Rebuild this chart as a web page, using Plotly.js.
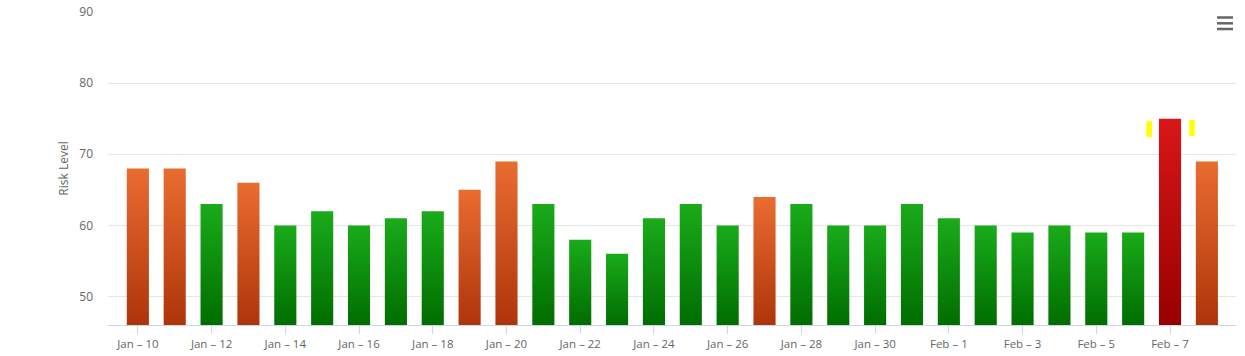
<!DOCTYPE html>
<html>
<head>
<meta charset="utf-8">
<script src="https://cdn.plot.ly/plotly-3.0.1.min.js"></script>
<style>
html,body{margin:0;padding:0;background:#fff;}
#chart{width:1245px;height:356px;}
</style>
</head>
<body>
<div id="chart"></div>
<script>
// ---- data ----
const categories = [
  'Jan – 10','Jan – 11','Jan – 12','Jan – 13','Jan – 14','Jan – 15','Jan – 16','Jan – 17','Jan – 18','Jan – 19',
  'Jan – 20','Jan – 21','Jan – 22','Jan – 23','Jan – 24','Jan – 25','Jan – 26','Jan – 27','Jan – 28','Jan – 29',
  'Jan – 30','Jan – 31','Feb – 1','Feb – 2','Feb – 3','Feb – 4','Feb – 5','Feb – 6','Feb – 7','Feb – 8'
];
const riskValues = [
  68, 68, 63, 66, 60, 62, 60, 61, 62, 65,
  69, 63, 58, 56, 61, 63, 60, 64, 63, 60,
  60, 63, 61, 60, 59, 60, 59, 59, 75, 69
];
const yTickValues = [50, 60, 70, 80, 90];
const yRange = [46, 90];
const highlightCategory = 'Feb – 7';

// ---- styling ----
const gradients = {
  green:  {top: '#1aab1a', bottom: '#006d00'},
  orange: {top: '#e96c30', bottom: '#ae350a'},
  red:    {top: '#d91618', bottom: '#990000'}
};
function levelOf(v){ return v >= 70 ? 'red' : (v >= 64 ? 'orange' : 'green'); }
const levels = riskValues.map(levelOf);
const flatColors = levels.map(l => gradients[l].top);

const tickCats = categories.filter((c, i) => i % 2 === 0);

const hIdx = categories.indexOf(highlightCategory);
const hVal = riskValues[hIdx];

const font = {family: '"Open Sans", "DejaVu Sans", sans-serif', size: 12, color: '#666666'};

const trace = {
  type: 'bar',
  x: categories,
  y: riskValues.map(v => v - yRange[0]),
  base: yRange[0],
  marker: {color: flatColors, line: {width: 0}},
  hoverinfo: 'x+y'
};

const shapes = [
  // yellow highlight markers beside the highest bar
  {type: 'rect', xref: 'x', yref: 'y', x0: hIdx - 0.64, x1: hIdx - 0.49, y0: hVal - 2.55, y1: hVal - 0.35,
   fillcolor: '#ffff00', line: {width: 0}, layer: 'above'},
  {type: 'rect', xref: 'x', yref: 'y', x0: hIdx + 0.52, x1: hIdx + 0.67, y0: hVal - 2.4, y1: hVal - 0.2,
   fillcolor: '#ffff00', line: {width: 0}, layer: 'above'}
];
// hamburger menu icon (decoration)
[17.5, 23.3, 29].forEach(py => {
  shapes.push({type: 'line', xref: 'paper', yref: 'paper',
    x0: (1217 - 108) / 1128, x1: (1233 - 108) / 1128,
    y0: (325 - py) / 313, y1: (325 - py) / 313,
    line: {color: '#666666', width: 2.5}});
});

const layout = {
  width: 1245, height: 356,
  margin: {l: 108, r: 9, t: 12, b: 31},
  paper_bgcolor: '#ffffff', plot_bgcolor: '#ffffff',
  font: font,
  showlegend: false,
  bargap: 0.4,
  xaxis: {
    type: 'category',
    range: [-0.81, categories.length - 0.21],
    tickmode: 'array', tickvals: tickCats, ticktext: tickCats,
    ticks: 'outside', ticklen: 8, tickcolor: '#ccd6eb', tickwidth: 1,
    showline: true, linecolor: '#ccd6eb', linewidth: 1,
    showgrid: false, zeroline: false,
    tickfont: {family: font.family, size: 11.5, color: '#666666'}, automargin: false
  },
  yaxis: {
    range: yRange,
    tickmode: 'array', tickvals: yTickValues,
    showgrid: true, gridcolor: '#e6e6e6', gridwidth: 1,
    zeroline: false, showline: false, ticks: '',
    ticklabelstandoff: 14,
    tickfont: {family: font.family, size: 12, color: '#666666'}, automargin: false,
    title: {text: 'Risk Level', font: {family: font.family, size: 12, color: '#666666'}, standoff: 8}
  },
  shapes: shapes
};

Plotly.newPlot('chart', [trace], layout, {displayModeBar: false, staticPlot: true}).then(gd => {
  const svg = gd.querySelector('svg.main-svg');
  const ns = 'http://www.w3.org/2000/svg';
  let defs = svg.querySelector('defs');
  if (!defs) { defs = document.createElementNS(ns, 'defs'); svg.insertBefore(defs, svg.firstChild); }
  Object.keys(gradients).forEach(k => {
    const lg = document.createElementNS(ns, 'linearGradient');
    lg.setAttribute('id', 'grad-' + k);
    lg.setAttribute('x1', '0'); lg.setAttribute('y1', '0');
    lg.setAttribute('x2', '0'); lg.setAttribute('y2', '1');
    const s1 = document.createElementNS(ns, 'stop');
    s1.setAttribute('offset', '0'); s1.setAttribute('stop-color', gradients[k].top);
    const s2 = document.createElementNS(ns, 'stop');
    s2.setAttribute('offset', '1'); s2.setAttribute('stop-color', gradients[k].bottom);
    lg.appendChild(s1); lg.appendChild(s2);
    defs.appendChild(lg);
  });
  const paths = gd.querySelectorAll('.barlayer .point path');
  paths.forEach((p, i) => {
    p.style.fill = 'url(#grad-' + levels[i] + ')';
  });
});
</script>
</body>
</html>
